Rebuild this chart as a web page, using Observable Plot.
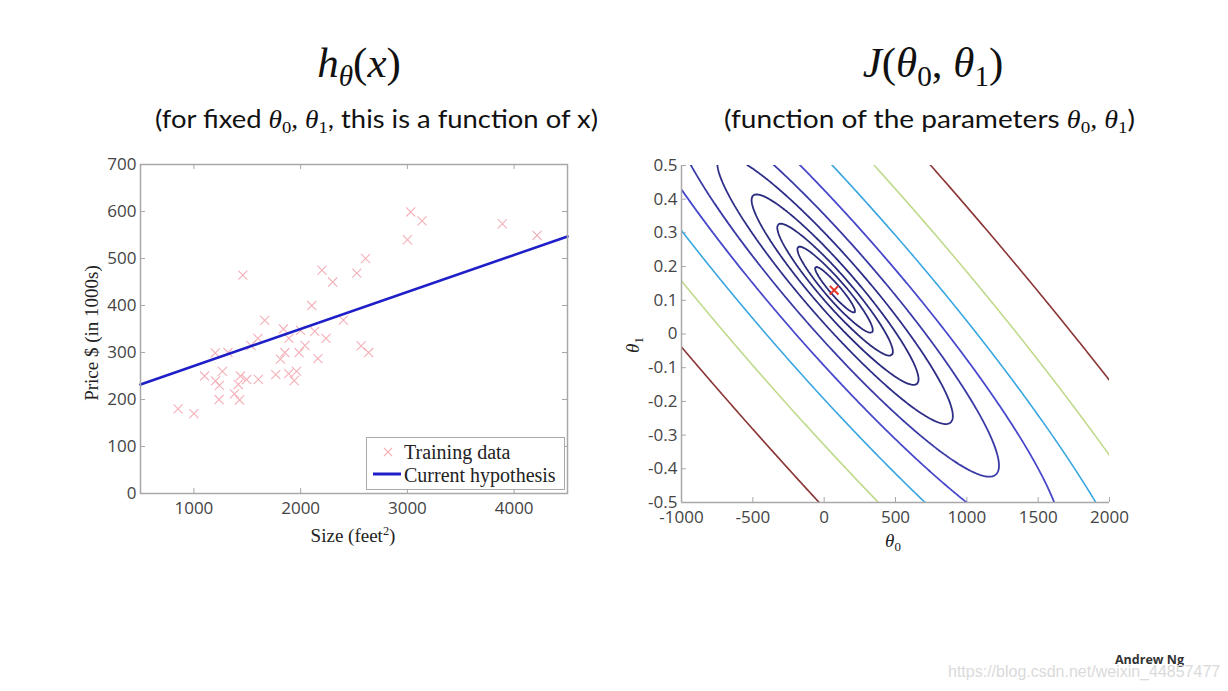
<!DOCTYPE html>
<html><head><meta charset="utf-8">
<script src="https://cdn.jsdelivr.net/npm/d3@7"></script>
<script src="https://cdn.jsdelivr.net/npm/@observablehq/plot@0.6"></script>
<style>
html,body{margin:0;padding:0;background:#fff}
body{width:1228px;height:691px;position:relative;overflow:hidden}
.abs{position:absolute;white-space:nowrap}
.serif{font-family:"Liberation Serif","DejaVu Serif",serif;color:#222}
.it{font-style:italic}
.m{font-family:"Liberation Serif","DejaVu Serif",serif;font-style:italic}
.m sub{font-style:normal}
.sub{font-family:Lato,"Open Sans",sans-serif;font-size:25px;color:#111}
.title{font-family:"Liberation Serif","DejaVu Serif",serif;font-size:43px;color:#111}
sub{font-size:0.68em;vertical-align:-0.3em;line-height:0}
sup{font-size:0.65em;vertical-align:0.55em;line-height:0}
</style></head>
<body>
<div id="t1" class="abs title" style="left:209px;top:38px;width:300px;text-align:center;font-family:'Liberation Serif',serif"><span class="it">h</span><sub class="it">θ</sub>(<span class="it">x</span>)</div>
<div id="t2" class="abs title" style="left:783px;top:38px;width:300px;text-align:center;font-family:'Liberation Serif',serif"><span class="it">J</span>(<span class="it">θ</span><sub>0</sub>, <span class="it">θ</span><sub>1</sub>)</div>
<div class="abs sub fit" data-x0="155" data-x1="598" style="top:103px">(for fixed <span class="m">θ<sub>0</sub>, θ<sub>1</sub></span>, this is a function of x)</div>
<div class="abs sub fit" data-x0="724" data-x1="1135" style="top:103px">(function of the parameters <span class="m">θ<sub>0</sub>, θ<sub>1</sub></span>)</div>

<div id="left" class="abs" style="left:60px;top:150px"></div>
<div id="right" class="abs" style="left:620px;top:150px"></div>

<div class="abs serif" style="left:92px;top:333px;transform:translate(-50%,-50%) rotate(-90deg);font-size:19px">Price $ (in 1000s)</div>
<div class="abs serif" style="left:353px;top:536px;transform:translate(-50%,-50%);font-size:19px">Size (feet<sup>2</sup>)</div>
<div class="abs serif" style="left:633px;top:345px;transform:translate(-50%,-50%) rotate(-90deg);font-size:19px"><span class="it">θ</span><sub>1</sub></div>
<div class="abs serif" style="left:893px;top:541px;transform:translate(-50%,-50%);font-size:19px"><span class="it">θ</span><sub>0</sub></div>

<div class="abs" style="left:366px;top:437px;width:197px;height:51px;border:1px solid #aaa;background:#fff">
<svg width="197" height="51" style="display:block">
<path d="M17,10 L25,18 M25,10 L17,18" stroke="#f4b4bc" stroke-width="1.1" fill="none"/>
<text x="37" y="21" font-family="Liberation Serif" font-size="20" fill="#222">Training data</text>
<line x1="6" y1="36" x2="34" y2="36" stroke="#1f1fc8" stroke-width="3"/>
<text x="37" y="44" font-family="Liberation Serif" font-size="20" fill="#222">Current hypothesis</text>
</svg></div>

<div class="abs" style="left:1115px;top:651px;font-family:'Open Sans',sans-serif;font-weight:bold;font-size:12.5px;color:#333">Andrew Ng</div>
<div class="abs" style="left:948px;top:663px;font-family:'Liberation Sans',Arial,sans-serif;font-size:16px;color:#dadada">https://blog.csdn.net/weixin_44857477</div>

<script>
// ---- Training data (size in feet^2, price in $1000s) ----
const sizes = [2104,1600,2400,1416,3000,1985,1534,1427,1380,1494,1940,2000,1890,1268,2300,1320,1236,2609,3031,1767,1888,1604,1962,3890,1100,1458,2526,2200,2637,1839,1000,2040,3137,1811,1437,1239,2132,4215,2162,1664,2238,2567,1200,852,1852,1203];
const prices = [399.9,329.9,369,232,539.9,299.9,314.9,199,212,242.5,240,347,330,259.9,449.9,299.9,199.9,500,599,252.9,255,242.9,259.9,573.9,249.9,464.5,469,475,299.9,349.9,169.9,314.9,579.9,285.9,249.9,229.9,345,549,287,368.5,329.9,314,299,179.9,299.9,239.5];

// ---- Current hypothesis line endpoints ----
const hypoSize = [500, 4500];
const hypoPrice = [232, 547];

// ---- Left axes ----
const sizeTicks = [1000, 2000, 3000, 4000];
const priceTicks = [0, 100, 200, 300, 400, 500, 600, 700];

// ---- Right: contour levels of J and their colours ----
const costLevels = [3250, 6150, 11600, 21900, 41500, 78400, 148000, 280000, 529000, 1000000];
const levelColors = ["#2b2b7d","#2b2b7d","#2b2b7d","#2b2b80","#2e2e88","#3a3aa6","#4848cc","#38a6e0","#c0da8c","#8a3434"];
const minPoint = [70, 0.13];
const theta0Ticks = [-1000, -500, 0, 500, 1000, 1500, 2000];
const theta1Ticks = [-0.5, -0.4, -0.3, -0.2, -0.1, 0, 0.1, 0.2, 0.3, 0.4, 0.5];

const train = sizes.map((s, i) => ({size: s, price: prices[i]}));
const hypo = hypoSize.map((s, i) => ({size: s, price: hypoPrice[i]}));

const m = sizes.length;
const J = (t0, t1) => {
  let s = 0;
  for (let i = 0; i < m; i++) { const e = t0 + t1 * sizes[i] - prices[i]; s += e * e; }
  return s / (2 * m);
};

const gray = "#a8a8a8";
const axisStyle = {fontFamily: "'Open Sans', sans-serif", fontSize: "17px", color: "#444", background: "transparent", overflow: "visible"};

// Left chart
{
  const W = 520, H = 410, mL = 80, mR = 13, mT = 14, mB = 67;
  const iw = W - mL - mR, ih = H - mT - mB;
  const chart = Plot.plot({
    width: W, height: H, marginLeft: mL, marginRight: mR, marginTop: mT, marginBottom: mB,
    style: axisStyle,
    x: {domain: [500, 4500]},
    y: {domain: [0, 700]},
    marks: [
      Plot.axisX(sizeTicks, {tickSize: 0, tickPadding: 8, label: null, tickFormat: d => String(d)}),
      Plot.axisY(priceTicks, {tickSize: 0, tickPadding: 4, label: null, tickFormat: d => String(d)}),
      Plot.tickX(sizeTicks, {x: d => d, insetTop: ih - 5, stroke: gray}),
      Plot.tickX(sizeTicks, {x: d => d, insetBottom: ih - 5, stroke: gray}),
      Plot.tickY(priceTicks, {y: d => d, insetRight: iw - 5, stroke: gray}),
      Plot.tickY(priceTicks, {y: d => d, insetLeft: iw - 5, stroke: gray}),
      Plot.dot(train, {x: "size", y: "price", symbol: "times", r: 4.2, stroke: "#f4b0b9", strokeWidth: 1.1}),
      Plot.line(hypo, {x: "size", y: "price", stroke: "#1f1fc8", strokeWidth: 2.6}),
      Plot.frame({stroke: gray, strokeWidth: 1.5})
    ]
  });
  document.getElementById("left").append(chart);
}

// Right chart
{
  const W = 520, H = 410, mL = 61, mR = 31, mT = 15, mB = 58;
  const iw = W - mL - mR, ih = H - mT - mB;
  const marks = [
    Plot.axisX(theta0Ticks, {tickSize: 0, tickPadding: 8, label: null, tickFormat: d => String(d)}),
    Plot.axisY(theta1Ticks, {tickSize: 0, tickPadding: 4, label: null, tickFormat: d => String(d)}),
    Plot.tickX(theta0Ticks, {x: d => d, insetTop: ih - 5, stroke: gray}),
    Plot.tickY(theta1Ticks, {y: d => d, insetRight: iw - 5, stroke: gray})
  ];
  costLevels.forEach((L, i) => {
    marks.push(Plot.contour({
      x1: -1600, x2: 2600, y1: -0.75, y2: 0.75,
      value: J, thresholds: [L], clip: true,
      fill: "none", stroke: levelColors[i], strokeWidth: i < 7 ? 1.8 : 1.6
    }));
  });
  marks.push(Plot.ruleX([-1000], {stroke: gray, strokeWidth: 1.5}));
  marks.push(Plot.ruleY([-0.5], {stroke: gray, strokeWidth: 1.5}));
  marks.push(Plot.dot([minPoint], {x: d => d[0], y: d => d[1], symbol: "times", r: 4, stroke: "#e8332b", strokeWidth: 2}));
  const chart = Plot.plot({
    width: W, height: H, marginLeft: mL, marginRight: mR, marginTop: mT, marginBottom: mB,
    style: axisStyle,
    x: {domain: [-1000, 2000]},
    y: {domain: [-0.5, 0.5]},
    marks
  });
  document.getElementById("right").append(chart);
}

// fit subtitles to their measured spans
document.querySelectorAll(".fit").forEach(el => {
  const x0 = +el.dataset.x0, x1 = +el.dataset.x1;
  const w = el.getBoundingClientRect().width;
  el.style.left = x0 + "px";
  el.style.transformOrigin = "0 50%";
  el.style.transform = `scaleX(${(x1 - x0) / w})`;
});
</script>
</body></html>
